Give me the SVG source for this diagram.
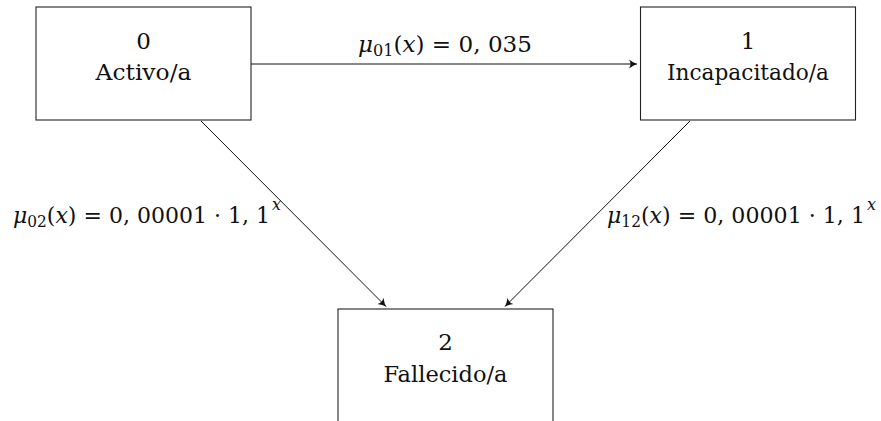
<svg xmlns="http://www.w3.org/2000/svg" width="881" height="421" viewBox="0 0 881 421">
<style>
.box{fill:#fff;stroke:#222;stroke-width:1.1}
text{font-family:'DejaVu Serif','Liberation Serif',serif;font-size:23px;fill:#111}
.t{text-anchor:middle}
.i{font-style:italic}
.sub{font-size:16px}
.edge{stroke:#111;stroke-width:1;fill:none;marker-end:url(#ah)}
</style>
<defs>
<marker id="ah" viewBox="-8 -5 10 10" refX="0" refY="0" markerWidth="10" markerHeight="10" markerUnits="userSpaceOnUse" orient="auto">
<path d="M-8,-4.5 Q-3.5,-1 0,0 Q-3.5,1 -8,4.5 Q-5,0 -8,-4.5Z" fill="#111"/>
</marker>
</defs>
<rect width="881" height="421" fill="#fff"/>
<g id="edges">
<line class="edge" x1="251" y1="64" x2="637" y2="64"/>
<line class="edge" x1="201" y1="121" x2="386" y2="306.5"/>
<line class="edge" x1="690" y1="121" x2="505" y2="306.5"/>
</g>
<g id="n0">
<rect class="box" x="36" y="7" width="215" height="113"/>
<text class="t" x="143.5" y="49">0</text>
<text class="t" x="143.5" y="80" textLength="96" lengthAdjust="spacingAndGlyphs">Activo/a</text>
</g>
<g id="n1">
<rect class="box" x="640.5" y="7" width="215" height="113"/>
<text class="t" x="748" y="49">1</text>
<text class="t" x="748" y="80" textLength="162" lengthAdjust="spacingAndGlyphs">Incapacitado/a</text>
</g>
<g id="n2">
<rect class="box" x="338" y="309" width="215" height="113"/>
<text class="t" x="445.5" y="350">2</text>
<text class="t" x="445.5" y="381.5" textLength="124" lengthAdjust="spacingAndGlyphs">Fallecido/a</text>
</g>
<g id="labels">
<text x="358" y="52" textLength="174" lengthAdjust="spacingAndGlyphs"><tspan class="i">μ</tspan><tspan class="sub" dy="4">01</tspan><tspan dy="-4">(</tspan><tspan class="i">x</tspan>) = 0, 035</text>
<text x="13" y="223" textLength="257" lengthAdjust="spacingAndGlyphs"><tspan class="i">μ</tspan><tspan class="sub" dy="4">02</tspan><tspan dy="-4">(</tspan><tspan class="i">x</tspan>) = 0, 00001 · 1, 1</text>
<text class="i sub" x="272" y="210">x</text>
<text x="607" y="223" textLength="258" lengthAdjust="spacingAndGlyphs"><tspan class="i">μ</tspan><tspan class="sub" dy="4">12</tspan><tspan dy="-4">(</tspan><tspan class="i">x</tspan>) = 0, 00001 · 1, 1</text>
<text class="i sub" x="867" y="210">x</text>
</g>
</svg>
